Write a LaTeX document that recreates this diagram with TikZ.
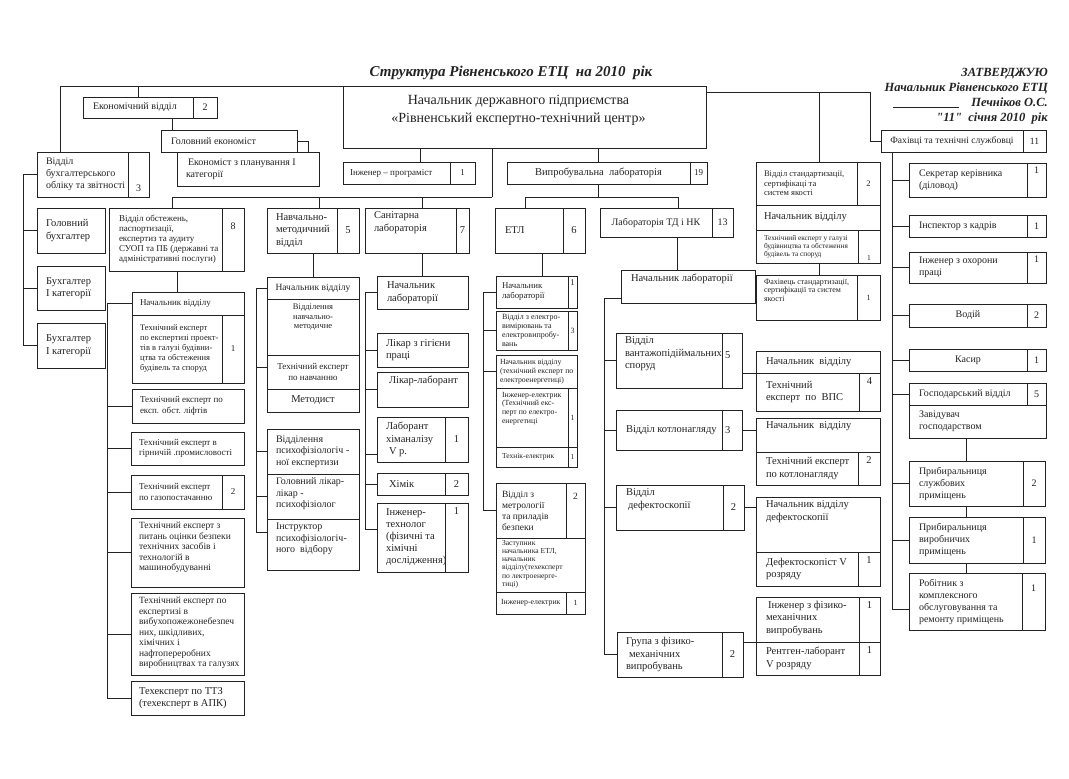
\documentclass[tikz,border=0pt]{standalone}
\usepackage{fontspec}
\setmainfont{Liberation Serif}
\newcommand\fsz[2]{\fontsize{#1}{#2}\selectfont}
\definecolor{ink}{RGB}{35,35,35}
\tikzset{
  bx/.style={draw=ink, line width=0.7pt, inner sep=0pt, outer sep=0pt, anchor=north west},
  txt/.style={inner sep=0pt, outer sep=0pt, align=left, text=ink, font=\fsz{10}{12}},
  ln/.style={draw=ink, line width=0.7pt},
  fN/.style={font=\fsz{10.5}{12.5}},
  fS/.style={font=\fsz{9}{10.5}},
  pc/.style={at={(\curbx.center)}, anchor=center},
  pl/.style={at={(\curbx.west)}, anchor=west, xshift=#1}, pl/.default=9pt,
  ptl/.style={at={(\curbx.north west)}, anchor=north west, xshift=#1, yshift=-4pt}, ptl/.default=9pt,
  pt/.style={at={(\curbx.north)}, anchor=north, yshift=-#1}, pt/.default=4pt,
  pb/.style={at={(\curbx.south)}, anchor=south, yshift=#1}, pb/.default=3pt,
}
\newcommand\OBox[7][]{%
  \def\curbx{#2}%
  \node[bx, minimum width={#5-#3}, minimum height={#6-#4}] (#2) at (#3,#4) {};
  \node[txt, pc, #1] (#2t) {#7};
}
\begin{document}
\begin{tikzpicture}[x=1pt,y=-1pt]
\useasboundingbox (0,0) rectangle (1069,779);
\fill[white] (0,0) rectangle (1069,779);

\node[font=\fsz{15}{17}\bfseries\itshape, text=ink, inner sep=0pt] (title) at (511,73) {Структура Рівненського ЕТЦ~ на 2010~ рік};
\node[anchor=north east, align=right, font=\fsz{12.5}{14.7}\bfseries\itshape, text=ink, inner sep=0pt] (appr) at (1048,68.5) {ЗАТВЕРДЖУЮ\\Начальник Рівненського ЕТЦ\\\rule[-1.5pt]{66pt}{0.6pt}\hspace{12pt}Печніков О.С.\\{\addfontfeature{Ligatures=TeXOff}"11"}~ січня 2010~ рік};

% ---- top level
\OBox[pt=9pt, xshift=-6pt, align=center, font=\fsz{14}{18}]{main}{343}{86}{706}{148}{Начальник державного підприємства\\«Рівненський експертно-технічний центр»}
\OBox[pl=10pt]{econ}{83}{97}{193}{118}{Економічний відділ}
\OBox{econn}{193}{97}{217}{118}{2}
\OBox[pl=10pt]{golek}{161}{130}{297}{152}{Головний економіст}
\OBox[pl=9pt]{ekplan}{177}{152}{319}{186}{\hspace{2pt}Економіст з планування І\\категорії}
\OBox[pl=9pt]{buh}{37}{152}{128}{197}{Відділ\\бухгалтерського\\обліку та звітності}
\OBox[pb=5pt]{buhn}{128}{152}{149}{197}{3}
\OBox[pl=9pt, fN]{gb}{37}{208}{105}{253}{Головний\\бухгалтер}
\OBox[pl=9pt, fN]{b1}{37}{266}{105}{310}{Бухгалтер\\І категорії}
\OBox[pl=9pt, fN]{b2}{37}{323}{105}{368}{Бухгалтер\\І категорії}
\OBox[pl=7pt, fS]{inzh}{343}{162}{450}{184}{Інженер – програміст}
\OBox[fS]{inzhn}{450}{162}{475}{184}{1}
\OBox[fN]{vyp}{507}{162}{690}{184}{Випробувальна~ лабораторія}
\OBox[fS]{vypn}{690}{162}{707}{184}{19}
\OBox[font=\fsz{9.6}{11}]{fah}{881}{130}{1023}{152}{Фахівці та технічні службовці}
\OBox[font=\fsz{9.6}{11}]{fahn}{1023}{130}{1046}{152}{11}

% ---- department of surveys
\OBox[pl=10pt, font=\fsz{9}{10}]{obst}{109}{208}{222}{271}{Відділ обстежень,\\паспортизації,\\експертиз та аудиту\\СУОП та ПБ (державні та\\адміністративні послуги)}
\OBox[pt=15pt]{obstn}{222}{208}{244}{271}{8}
\OBox[pl=8pt, font=\fsz{9}{10}]{obH}{132}{292}{244}{315}{Начальник відділу}
\OBox[pl=8pt, font=\fsz{8.5}{10}]{obT}{132}{315}{222}{383}{Технічний експерт\\по експертизі проект-\\тів в галузі будівни-\\цтва та обстеження\\будівель та споруд}
\OBox[fS]{obTn}{222}{315}{244}{383}{1}
\OBox[pl=8pt, fS]{lift}{132}{389}{244}{423}{Технічний експерт по\\експ. обст. ліфтів}
\OBox[pl=8pt, fS]{hirn}{131}{432}{244}{465}{Технічний експерт в\\гірничій .промисловості}
\OBox[pl=8pt, fS]{gaz}{131}{475}{222}{509}{Технічний експерт\\по газопостачанню}
\OBox[fS]{gazn}{222}{475}{244}{509}{2}
\OBox[ptl=8pt, font=\fsz{9.5}{10.5}]{otsin}{131}{518}{244}{587}{Технічний експерт з\\питань оцінки безпеки\\технічних засобів і\\технологій в\\машинобудуванні}
\OBox[ptl=8pt, font=\fsz{9.5}{10.5}]{vyb}{131}{593}{244}{675}{Технічний експерт по\\експертизі в\\вибухопожежонебезпеч\\них, шкідливих,\\хімічних і\\нафтопереробних\\виробництвах та галузях}
\OBox[pl=8pt, fN]{ttz}{131}{681}{244}{715}{Техексперт по ТТЗ\\(техексперт в АПК)}

% ---- training department
\OBox[pl=9pt, fN]{navch}{267}{208}{337}{253}{Навчально-\\методичний\\відділ}
\OBox[fN]{navchn}{337}{208}{359}{253}{5}
\OBox[align=center, font=\fsz{9.5}{11}]{navH}{267}{277}{359}{299}{Начальник відділу}
\OBox[pt=5pt, align=center, font=\fsz{8.5}{9.5}]{navV}{267}{299}{359}{355}{Відділення\\навчально-\\методичне}
\OBox[align=center, font=\fsz{9}{11}]{navT}{267}{355}{359}{389}{Технічний експерт\\по навчанню}
\OBox[align=center, fN]{navM}{267}{389}{359}{412}{Методист}
\OBox[pl=9pt, font=\fsz{10}{11.5}]{psyV}{267}{429}{359}{474}{Відділення\\психофізіологіч -\\ної експертизи}
\OBox[ptl=9pt, font=\fsz{10}{11.5}]{psyG}{267}{474}{359}{519}{Головний лікар-\\лікар -\\психофізіолог}
\OBox[ptl=9pt, font=\fsz{10}{11.5}]{psyI}{267}{519}{359}{570}{Інструктор\\психофізіологіч-\\ного~ відбору}

% ---- sanitary laboratory
\OBox[ptl=9pt, fN]{san}{365}{208}{456}{253}{Санітарна\\лабораторія}
\OBox[fN]{sann}{456}{208}{469}{253}{7}
\OBox[pl=10pt, fN]{sanH}{377}{276}{468}{309}{Начальник\\лабораторії}
\OBox[pl=9pt, fN]{sanL1}{377}{333}{468}{367}{Лікар з гігієни\\праці}
\OBox[ptl=12pt, fN]{sanL2}{377}{372}{468}{407}{Лікар-лаборант}
\OBox[pl=9pt, fN]{sanLab}{377}{417}{445}{462}{Лаборант\\хіманалізу\\\hspace*{3pt}V р.}
\OBox[fN]{sanLabn}{445}{417}{468}{462}{1}
\OBox[pl=12pt, fN]{sanX}{377}{473}{445}{495}{Хімік}
\OBox[fN]{sanXn}{445}{473}{468}{495}{2}
\OBox[pl=9pt, font=\fsz{10.5}{12}]{sanI}{377}{503}{445}{572}{Інженер-\\технолог\\(фізичні та\\хімічні\\дослідження)}
\OBox[pt=5pt, fN]{sanIn}{445}{503}{468}{572}{1}

% ---- ETL
\OBox[pl=10pt, fN]{etl}{495}{208}{563}{253}{ЕТЛ}
\OBox[fN]{etln}{563}{208}{585}{253}{6}
\OBox[pl=6pt, font=\fsz{8.8}{10}]{etlH}{496}{276}{568}{308}{Начальник\\лабораторії}
\OBox[pt=4pt, font=\fsz{8.8}{10}]{etlHn}{568}{276}{577}{308}{1}
\OBox[pl=6pt, font=\fsz{8}{9}]{etlV}{496}{311}{568}{350}{Відділ з електро-\\вимірювань та\\електровипробу-\\вань}
\OBox[font=\fsz{8}{9}]{etlVn}{568}{311}{577}{350}{3}
\OBox[pl=4pt, font=\fsz{7.8}{8.8}]{etlNV}{496}{355}{577}{388}{Начальник відділу\\(технічний експерт по\\електроенергетиці)}
\OBox[ptl=6pt, font=\fsz{7.8}{8.8}]{etlI}{496}{388}{568}{447}{Інженер-електрик\\(Технічний екс-\\перт по електро-\\енергетиці}
\OBox[font=\fsz{7.8}{8.8}]{etlIn}{568}{388}{577}{447}{1}
\OBox[pl=6pt, font=\fsz{7.5}{8.5}]{etlT}{496}{447}{568}{467}{Технік-електрик}
\OBox[font=\fsz{7.5}{8.5}]{etlTn}{568}{447}{577}{467}{1}
\OBox[pl=6pt, font=\fsz{9.5}{11}]{etlM}{496}{483}{566}{538}{Відділ з\\метрології\\та приладів\\безпеки}
\OBox[pt=10pt, font=\fsz{9.5}{11}]{etlMn}{566}{483}{585}{538}{2}
\OBox[ptl=6pt, yshift=2pt, font=\fsz{7.6}{8.3}]{etlZ}{496}{538}{585}{592}{Заступник\\начальника ЕТЛ,\\начальник\\відділу(техексперт\\по лектроенерге-\\тиці)}
\OBox[pl=5pt, font=\fsz{7.8}{8.8}]{etlE}{496}{592}{566}{614}{Інженер-електрик}
\OBox[font=\fsz{7.8}{8.8}]{etlEn}{566}{592}{585}{614}{1}

% ---- laboratory TD and NK
\OBox{labtd}{600}{208}{712}{237}{Лабораторія ТД і НК}
\OBox{labtdn}{712}{208}{733}{237}{13}
\OBox[ptl=10pt, fN]{ltH}{621}{270}{755}{303}{Начальник лабораторії}
\OBox[ptl=9pt, fN]{vant}{616}{333}{722}{388}{Відділ\\вантажопідіймальних\\споруд}
\OBox[pl=3pt, yshift=5pt, fN]{vantn}{722}{333}{742}{388}{5}
\OBox[pl=10pt, fN]{kot}{616}{410}{722}{450}{Відділ котлонагляду}
\OBox[pl=3pt, fN]{kotn}{722}{410}{742}{450}{3}
\OBox[ptl=10pt, fN]{def}{616}{485}{723}{530}{Відділ\\\hspace*{2pt}дефектоскопії}
\OBox[fN]{defn}{723}{485}{744}{530}{2}
\OBox[pl=9pt, fN]{grp}{617}{632}{722}{677}{Група з фізико-\\\hspace*{3pt}механічних\\випробувань}
\OBox[fN]{grpn}{722}{632}{743}{677}{2}
\OBox[pl=10pt, fN]{vpsH}{756}{351}{880}{373}{Начальник~ відділу}
\OBox[pl=10pt, fN]{vpsT}{756}{373}{859}{411}{Технічний\\експерт~ по~ ВПС}
\OBox[pt=5pt, fN]{vpsTn}{859}{373}{880}{411}{4}
\OBox[ptl=10pt, fN]{kotH}{756}{418}{880}{452}{Начальник~ відділу}
\OBox[pl=10pt, fN]{kotT}{756}{452}{858}{485}{Технічний експерт\\по котлонагляду}
\OBox[pt=5pt, fN]{kotTn}{858}{452}{880}{485}{2}
\OBox[ptl=10pt, fN]{defH}{756}{497}{880}{552}{Начальник відділу\\дефектоскопії}
\OBox[pl=10pt, fN]{defT}{756}{552}{858}{586}{Дефектоскопіст V\\розряду}
\OBox[pt=5pt, fN]{defTn}{858}{552}{880}{586}{1}
\OBox[ptl=10pt, fN]{fmI}{756}{597}{859}{642}{\hspace*{2pt}Інженер з фізико-\\механічних\\випробувань}
\OBox[pt=5pt, fN]{fmIn}{859}{597}{880}{642}{1}
\OBox[pl=10pt, fN]{fmR}{756}{642}{859}{675}{Рентген-лаборант\\V розряду}
\OBox[pt=5pt, fN]{fmRn}{859}{642}{880}{675}{1}

% ---- standardisation
\OBox[pl=8pt, font=\fsz{8.5}{9.3}]{std}{756}{162}{857}{205}{Відділ стандартизації,\\сертифікаці та\\систем якості}
\OBox[font=\fsz{8.5}{9.3}]{stdn}{857}{162}{880}{205}{2}
\OBox[pl=8pt, fN]{stdH}{756}{205}{880}{230}{Начальник відділу}
\OBox[pl=8pt, font=\fsz{7.3}{7.8}]{stdT}{756}{230}{858}{263}{Технічний експерт у галузі\\будівництва та обстеження\\будівель та споруд}
\OBox[pb=3pt, font=\fsz{7.5}{8}]{stdTn}{858}{230}{880}{263}{1}
\OBox[ptl=8pt, font=\fsz{8}{8.6}]{stdF}{756}{275}{857}{320}{Фахівець стандартизації,\\сертифікації та систем\\якості}
\OBox[font=\fsz{8}{8.6}]{stdFn}{857}{275}{880}{320}{1}

% ---- specialists
\OBox[pl=10pt]{sek}{909}{163}{1027}{197}{Секретар керівника\\(діловод)}
\OBox[pt=4pt]{sekn}{1027}{163}{1046}{197}{1}
\OBox[pl=10pt]{insp}{909}{215}{1027}{237}{Інспектор з кадрів}
\OBox{inspn}{1027}{215}{1046}{237}{1}
\OBox[pl=10pt]{ohor}{909}{252}{1027}{283}{Інженер з охорони\\праці}
\OBox[pt=4pt]{ohorn}{1027}{252}{1046}{283}{1}
\OBox[align=center]{vod}{909}{304}{1027}{327}{Водій}
\OBox{vodn}{1027}{304}{1046}{327}{2}
\OBox[align=center]{kas}{909}{349}{1027}{371}{Касир}
\OBox{kasn}{1027}{349}{1046}{371}{1}
\OBox[pl=10pt]{hosp}{909}{383}{1027}{405}{Господарський відділ}
\OBox{hospn}{1027}{383}{1046}{405}{5}
\OBox[pl=10pt]{zav}{909}{405}{1046}{438}{Завідувач\\господарством}
\OBox[pl=10pt]{prib1}{909}{461}{1023}{506}{Прибиральниця\\службових\\приміщень}
\OBox{prib1n}{1023}{461}{1045}{506}{2}
\OBox[pl=10pt]{prib2}{909}{517}{1023}{563}{Прибиральниця\\виробничих\\приміщень}
\OBox{prib2n}{1023}{517}{1045}{563}{1}
\OBox[pl=10pt]{rob}{909}{573}{1022}{630}{Робітник з\\комплексного\\обслуговування та\\ремонту приміщень}
\OBox[pt=12pt]{robn}{1022}{573}{1045}{630}{1}

% ---- connectors
\draw[ln] (main.north west) -| ([xshift=23pt]buh.north west);
\draw[ln] (econ.north) -- (econ.north |- main.north);
\draw[ln] ([xshift=11pt]golek.north west) -- ++(0,-12);
\draw[ln] (golek.east) -| ([xshift=-11pt]ekplan.north east);
\draw[ln] (buh.west) -- ++(-14,0) |- (b2.west);
\foreach \n in {gb,b1} \draw[ln] (\n.west) -- ++(-14,0);

\draw[ln] ([xshift=149pt]main.south west) -- ++(0,49) coordinate (busA);
\draw[ln] ([xshift=63pt]obst.north west) |- (busA);
\draw[ln] ([xshift=52pt]navch.north west) -- ++(0,-11);
\draw[ln] ([xshift=57pt]san.north west) -- ++(0,-11);
\draw[ln] ([xshift=77pt]main.south west) -- ++(0,14);
\draw[ln] (vyp.north) -- (vyp.north |- main.south);
\draw[ln] (vyp.south) -- ++(0,13);
\draw[ln] ([xshift=30pt]etl.north west) -- ++(0,-11) -| ([xshift=78pt]labtd.north west);
\draw[ln] ([yshift=-6pt]main.north east) -| ([xshift=-11pt]fah.west) -- (fah.west);
\draw[ln] ([xshift=63pt]std.north west) -- ++(0,-70);
\draw[ln] ([xshift=63pt]stdF.north west) -- ++(0,-12);

\draw[ln] ([xshift=11pt]fah.south west) |- ([yshift=-8pt]rob.west);
\foreach \n in {sek,insp,ohor,vod,kas,hosp,prib1,prib2} \draw[ln] (\n.west) -- ++(-17,0);
\draw[ln] (prib1.north) -- (prib1.north |- zav.south);
\draw[ln] (prib1.south) -- (prib1.south |- prib2.north);
\draw[ln] (prib2.south) -- (prib2.south |- rob.north);

\draw[ln] ([xshift=68pt]obst.south west) -- ++(0,21);
\draw[ln] (obH.west) -- ++(-25,0) |- (ttz.west);
\foreach \n in {lift,hirn,gaz,otsin,vyb} \draw[ln] (\n.west) -- ++(-24,0);

\draw[ln] ([xshift=46pt]navch.south west) -- ++(0,24);
\draw[ln] (navH.west) -- ++(-11,0) |- ([yshift=12pt]psyI.west);
\draw[ln] ([yshift=5pt]navT.west) -- ++(-11,0);
\foreach \n in {psyV,psyG} \draw[ln] (\n.west) -- ++(-11,0);

\draw[ln] ([xshift=57pt]san.south west) -- ++(0,23);
\draw[ln] (sanH.west) -- ++(-12,0) |- ([yshift=8pt]sanI.west);
\foreach \n in {sanL1,sanL2,sanX} \draw[ln] (\n.west) -- ++(-12,0);
\draw[ln] ([yshift=-15pt]sanLab.west) -- ++(-12,0);

\draw[ln] ([xshift=47pt]etl.south west) -- ++(0,23);
\draw[ln] (etlH.west) -- ++(-13,0) |- (etlM.west);
\foreach \n in {etlV,etlNV} \draw[ln] (\n.west) -- ++(-13,0);

\draw[ln] ([xshift=77pt]labtd.south west) -- ++(0,33);
\draw[ln] ([yshift=-12pt]ltH.west) -- ++(-17,0) |- (grp.west);
\foreach \n in {vant,kot,def} \draw[ln] (\n.west) -- ++(-12,0);
\draw[ln] (vpsH.south west) -- (vpsH.south west -| vantn.east);
\draw[ln] (kotn.east) -- (kotn.east -| kotH.west);
\draw[ln] (defn.east) -- (defn.east -| defH.west);
\draw[ln] (fmI.south west) -- (fmI.south west -| grpn.east);
\end{tikzpicture}
\end{document}
